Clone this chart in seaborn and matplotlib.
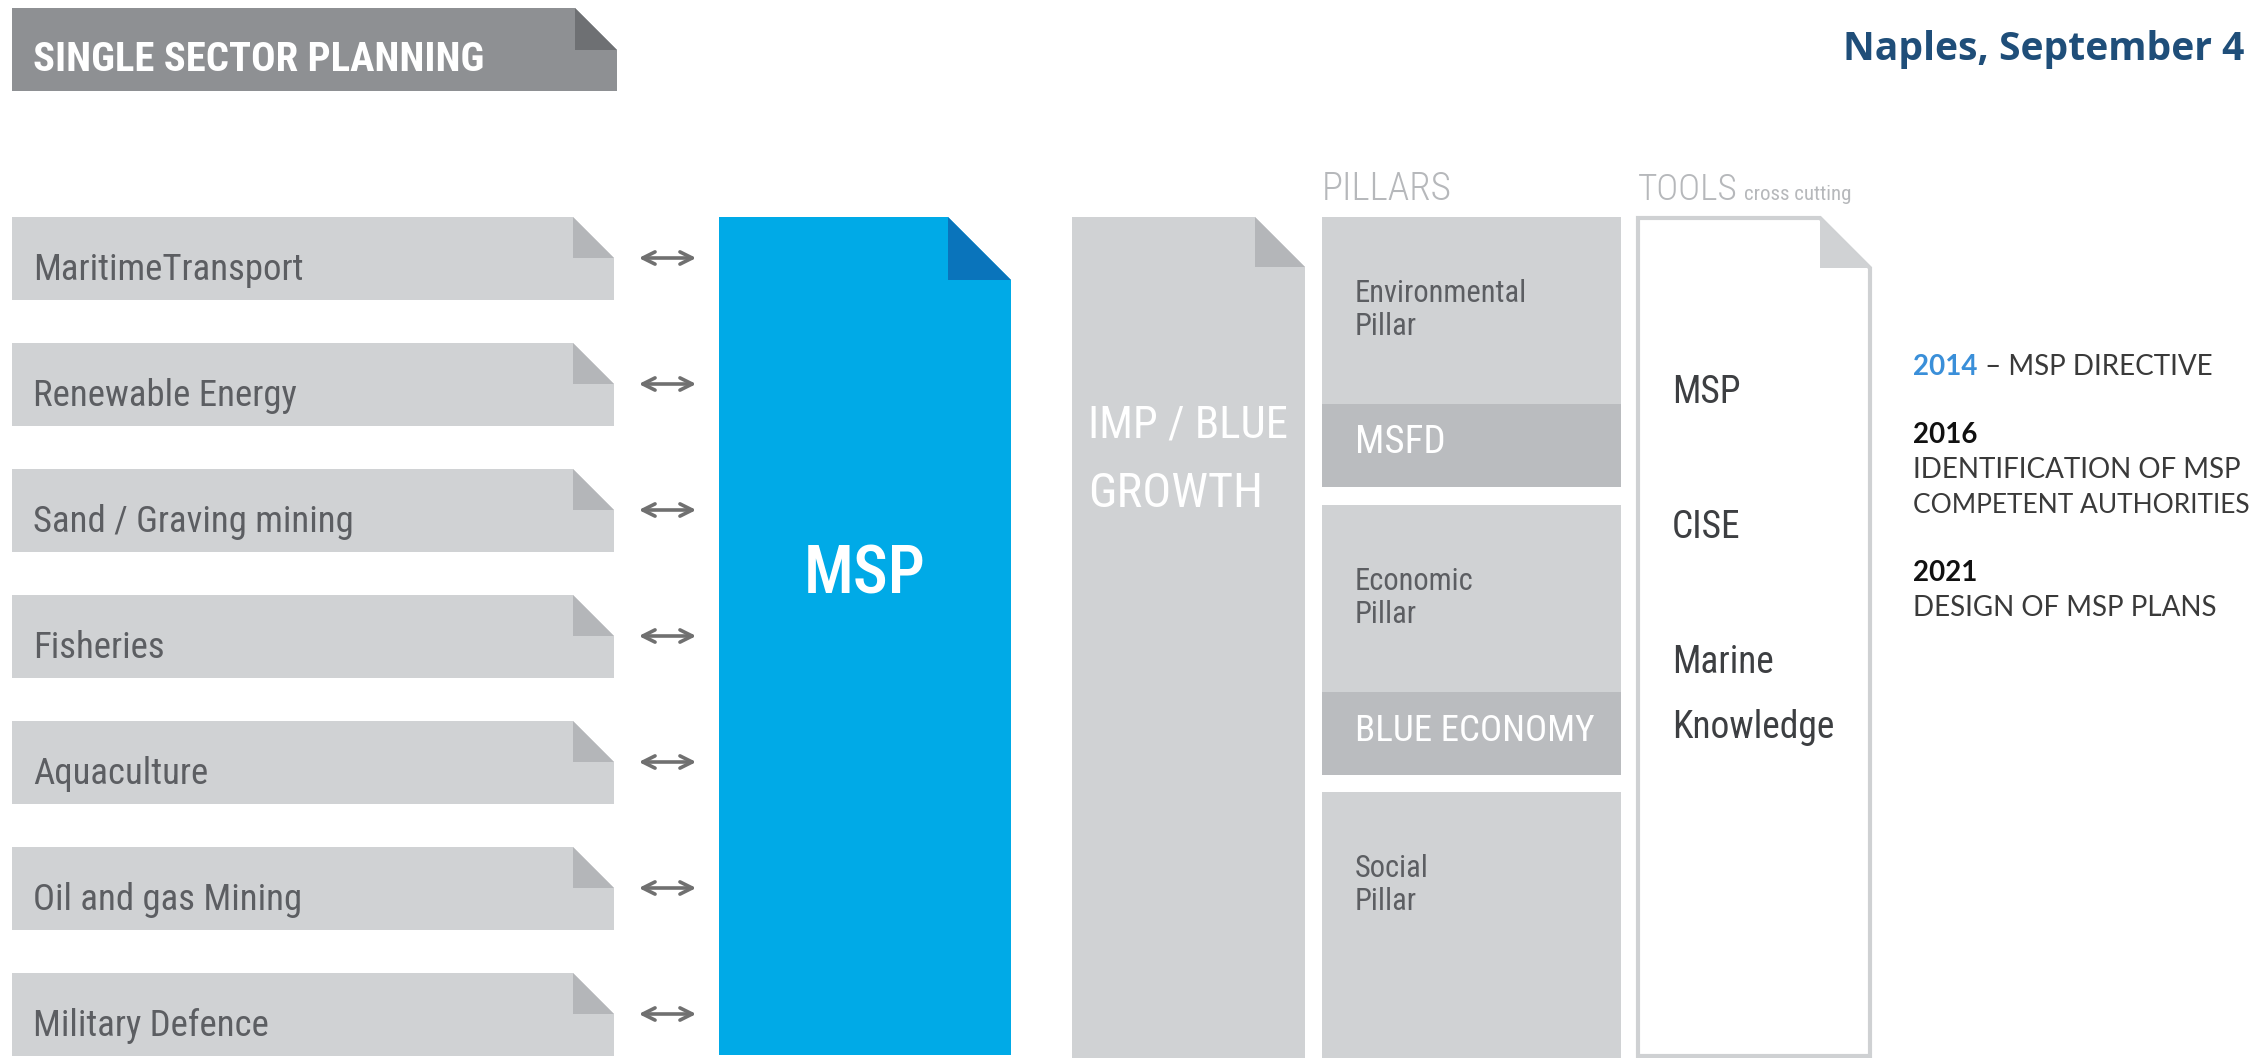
import matplotlib
matplotlib.use('Agg')
import matplotlib.pyplot as plt
from matplotlib.patches import Polygon
from matplotlib import font_manager
import seaborn as sns

# contenuti dello schema
sectors = ['MaritimeTransport', 'Renewable Energy', 'Sand / Graving mining',
           'Fisheries', 'Aquaculture', 'Oil and gas Mining', 'Military Defence']
pillars = ['Environmental\nPillar', 'Economic\nPillar', 'Social\nPillar']
pillar_bands = ['MSFD', 'BLUE ECONOMY', None]
tools = ['MSP', 'CISE', 'Marine\nKnowledge']
years = ['2014', '2016', '2021']
milestones = ['MSP DIRECTIVE', 'IDENTIFICATION OF MSP\nCOMPETENT AUTHORITIES', 'DESIGN OF MSP PLANS']

sns.set_theme(style='white')

installed = {f.name for f in font_manager.fontManager.ttflist}
def pick(*names):
    for n in names:
        if n in installed:
            return n
    return 'DejaVu Sans'

COND = pick('Roboto Condensed', 'Liberation Sans Narrow', 'DejaVu Sans Condensed', 'Open Sans Condensed', 'Roboto')
GEO = pick('Lato', 'Open Sans')
HEAD = pick('Open Sans', 'Lato')
plt.rcParams['font.family'] = [COND, 'DejaVu Sans']

fig = plt.figure(figsize=(22.52, 10.58), dpi=100)
ax = fig.add_axes([0, 0, 1, 1])
ax.set_xlim(0, 2252)
ax.set_ylim(1058, 0)
ax.axis('off')
R = fig.canvas.get_renderer()

LIGHT = '#d0d2d4'
FOLD = '#b4b6b9'
BAND = '#babcbf'
TXT = '#5c5e62'

def page(x0, y0, x1, y1, fold, face, foldc, edge='none', lw=0):
    ax.add_patch(Polygon([(x0, y0), (x1 - fold, y0), (x1, y0 + fold), (x1, y1), (x0, y1)],
                         closed=True, fc=face, ec=edge, lw=lw, joinstyle='miter'))
    ax.add_patch(Polygon([(x1 - fold, y0), (x1 - fold, y0 + fold), (x1, y0 + fold)],
                         closed=True, fc=foldc, ec='none'))

def label(x, y, s, size, color, family=COND, maxw=None, **kw):
    t = ax.text(x, y, s, fontsize=size, color=color, va='baseline',
                family=[family, 'DejaVu Sans'], fontstretch='condensed', **kw)
    if maxw:
        w = t.get_window_extent(renderer=R).width
        if w > maxw:
            t.set_fontsize(size * maxw / w)
    return t

def width(t):
    return t.get_window_extent(renderer=R).width

# banner
page(12, 8, 617, 91, 42, '#8e9093', '#6e7073')
label(33, 71, 'SINGLE SECTOR PLANNING', 38, 'white', maxw=450, fontweight='bold')

label(1843, 60, 'Naples, September 4', 30, '#1f4e79', family=HEAD, maxw=402, fontweight='bold')

# settori
for i, s in enumerate(sectors):
    top = 217 + i * 126
    page(12, top, 614, top + 83, 41, LIGHT, FOLD)
    label(33, top + 63, s, 26.5, TXT)
    ax.annotate('', xy=(699, top + 41), xytext=(636, top + 41),
                arrowprops=dict(arrowstyle='<->', color='#707070', lw=2.6, mutation_scale=22))

# MSP
page(719, 217, 1011, 1055, 63, '#00aae7', '#0a74bb')
label(865, 593, 'MSP', 53, 'white', maxw=122, ha='center', fontweight='medium')

# IMP / Blue growth
page(1072, 217, 1305, 1058, 50, LIGHT, FOLD)
label(1088, 437, 'IMP / BLUE', 44, 'white', maxw=200)
label(1088, 507, 'GROWTH', 44, 'white', maxw=175)

# pilastri
label(1322, 200, 'PILLARS', 40, '#b6b8bb', maxw=130, fontweight='light')
tops = [217, 505, 792]
bottoms = [487, 775, 1058]
for name, band, top, bot in zip(pillars, pillar_bands, tops, bottoms):
    ax.add_patch(plt.Rectangle((1322, top), 299, bot - top, fc=LIGHT, ec='none'))
    for k, line in enumerate(name.split('\n')):
        label(1355, top + 85 + k * 33, line, 22, TXT)
    if band:
        ax.add_patch(plt.Rectangle((1322, top + 187), 299, 83, fc=BAND, ec='none'))
        label(1355, top + 236, band, 28, 'white', maxw=240)

# strumenti
t = label(1638, 200, 'TOOLS', 40, '#b6b8bb', maxw=100, fontweight='light')
label(1638 + width(t) + 6, 200, 'cross cutting', 15, '#b6b8bb')
page(1638, 218, 1870, 1056, 50, 'white', LIGHT, edge='#cfd1d3', lw=3)
for i, s in enumerate(tools):
    for k, line in enumerate(s.split('\n')):
        label(1672, 403 + i * 135 + k * 65, line, 27, '#3d3f42', maxw=170)

# tappe
y = 375
for yr, txt in zip(years, milestones):
    if yr == years[0]:
        ty = label(1913, y, yr, 20, '#3a8fd9', family=GEO, fontweight='bold')
        label(1913 + width(ty), y, ' \u2013 ' + txt, 20, '#3a3a3a', family=GEO)
        y += 35 + 33
    else:
        label(1913, y, yr, 20, '#111111', family=GEO, fontweight='bold')
        for line in txt.split('\n'):
            y += 35
            label(1913, y, line, 20, '#3a3a3a', family=GEO, maxw=337)
        y += 35 + 33

fig.savefig('out.png', dpi=100, facecolor='white')
